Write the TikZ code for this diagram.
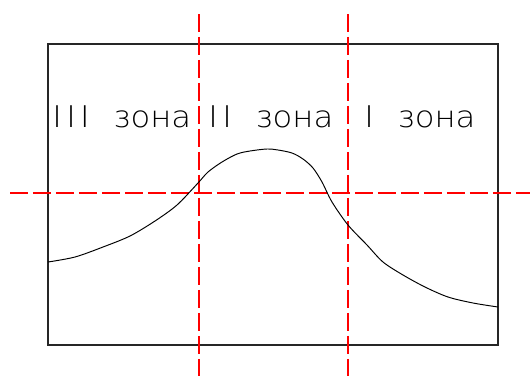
\documentclass[tikz,border=0pt]{standalone}
\usepackage{fontspec}
\newfontfamily\zonefont[FakeStretch=1.08]{DejaVu Sans ExtraLight}
\usetikzlibrary{positioning}

\begin{document}
\begin{tikzpicture}[x=0.02cm,y=-0.02cm]
\tikzset{
  frame/.style={draw=black!85,line width=0.8pt},
  axisline/.style={draw=red,line width=0.62pt,dash pattern=on 0.36cm off 0.1cm},
  profile/.style={draw=black,line width=0.55pt},
  zonelabel/.style={anchor=base west,inner sep=0pt,font=\zonefont\fontsize{17}{18}\selectfont}
}
\useasboundingbox (0,0) rectangle (530,376);
\draw[frame] (48,44) rectangle (498,345);
% axes
\coordinate (v1top) at (199,14);
\coordinate (v1bot) at (199,376);
\coordinate (v2top) at (348,14);
\coordinate (v2bot) at (348,376);
\coordinate (hleft) at (10,193);
\coordinate (hright) at (530,193);
\draw[axisline] (v1top) -- (v1bot);
\draw[axisline] (v2top) -- (v2bot);
\draw[axisline] (hleft) -- (hright);
% zones
\node[zonelabel] (zone3) at (52,127) {I\kern2.5pt I\kern2.5pt I\hspace{0.47cm}зона};
\node[zonelabel] (zone2) at (208,127) {I\kern2.5pt I\hspace{0.47cm}зона};
\node[zonelabel] (zone1) at (364,127) {I\hspace{0.47cm}зона};
% curve
\draw[profile] plot[smooth,tension=0.5] coordinates {
  (48,262) (75,257) (103,247) (130,236) (155,221) (177,205) (198,183)
  (208,172) (222,162) (237,154) (250,151) (267,149) (278,150) (292,153)
  (303,159) (313,168) (322,182) (332,202) (348,225) (367,245) (383,262)
  (403,275) (425,287) (448,297) (473,303) (498,307)};
\end{tikzpicture}
\end{document}
